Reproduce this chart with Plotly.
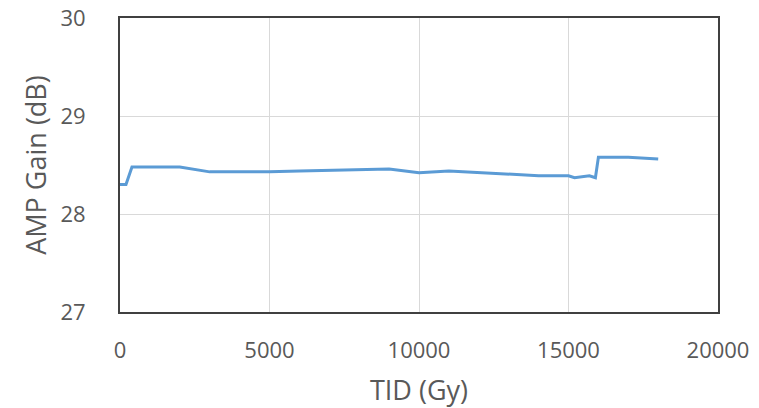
import plotly.graph_objects as go

tid = [0, 200, 400, 2000, 3000, 5000, 6000, 7500, 8000, 9000, 10000, 11000,
       14000, 15000, 15200, 15700, 15900, 16000, 17000, 18000]
gain = [28.30, 28.30, 28.48, 28.48, 28.43, 28.43, 28.44, 28.45, 28.46, 28.46,
        28.42, 28.44, 28.39, 28.39, 28.37, 28.39, 28.37, 28.58, 28.58, 28.56]

x_ticks = [0, 5000, 10000, 15000, 20000]
y_ticks = [27, 28, 29, 30]

fig = go.Figure()
fig.add_trace(go.Scatter(x=tid, y=gain, mode="lines",
                         line=dict(color="#5B9BD5", width=3),
                         showlegend=False))

font_family = "Open Sans, Liberation Sans, sans-serif"
fig.update_layout(
    width=759, height=408,
    margin=dict(l=120, r=41, t=18, b=96),
    paper_bgcolor="white", plot_bgcolor="white",
    font=dict(family=font_family, color="#595959"),
    xaxis=dict(range=[0, 20000], tickvals=x_ticks, ticktext=[str(v) for v in x_ticks],
               showgrid=True, gridcolor="#d9d9d9", gridwidth=1,
               showline=True, linecolor="#404040", linewidth=2, mirror=True,
               zeroline=False, ticks="", ticklabelstandoff=18, automargin=False,
               tickfont=dict(size=22, color="#595959"),
               title=dict(text="TID (Gy)", font=dict(size=27, color="#595959"), standoff=18)),
    yaxis=dict(range=[27, 30], tickvals=y_ticks,
               showgrid=True, gridcolor="#d9d9d9", gridwidth=1,
               showline=True, linecolor="#404040", linewidth=2, mirror=True,
               zeroline=False, ticks="", ticklabelstandoff=28, automargin=False,
               tickfont=dict(size=22, color="#595959"),
               title=dict(text="AMP Gain (dB)", font=dict(size=27, color="#595959"), standoff=6)),
)

fig.write_html("out.html")
